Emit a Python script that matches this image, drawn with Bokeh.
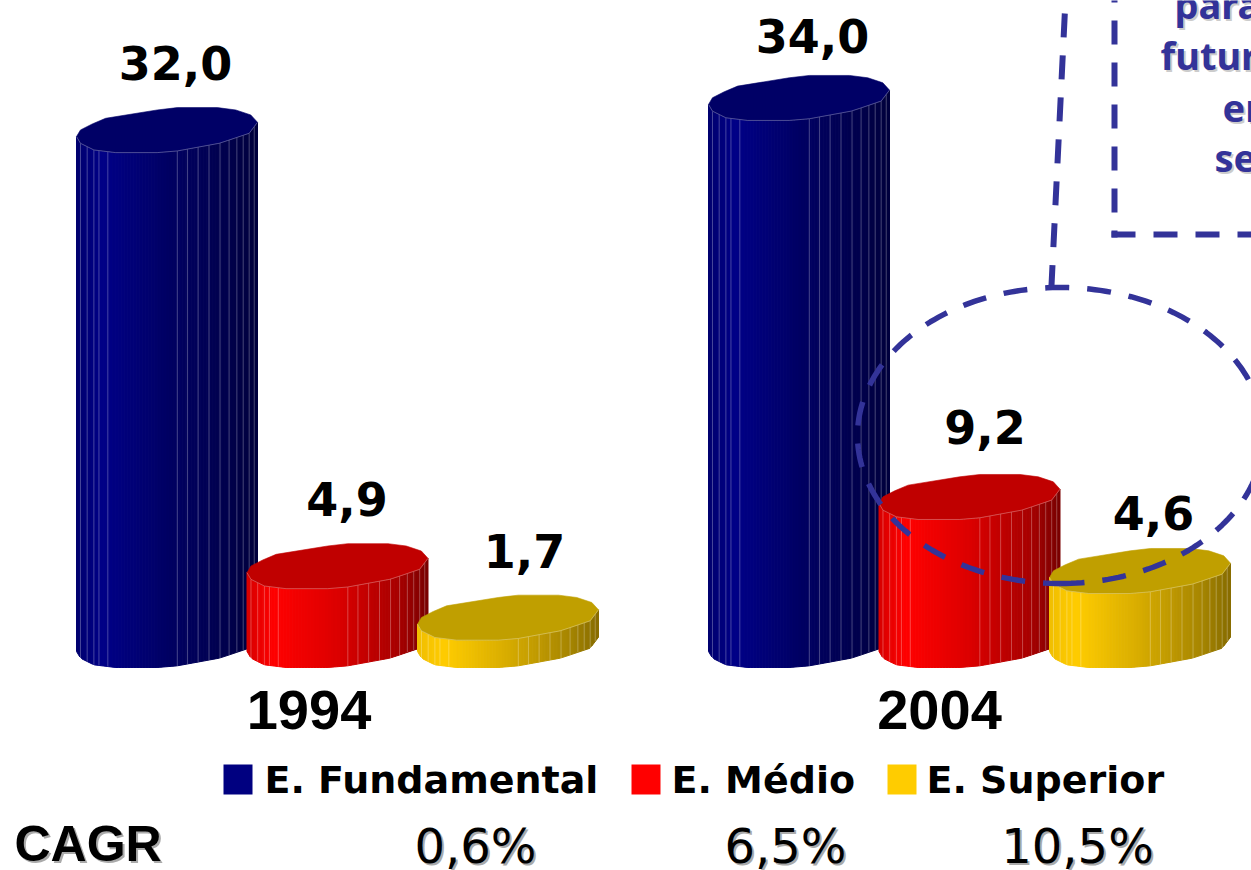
import numpy as np
from bokeh.core.properties import value
from bokeh.embed import file_html
from bokeh.plotting import figure
from bokeh.resources import INLINE

# Enrolment figures by school level
years = ["1994", "2004"]
levels = ["E. Fundamental", "E. Médio", "E. Superior"]
fundamental = [32.0, 34.0]
medio = [4.9, 9.2]
superior = [1.7, 4.6]
cagr_label = "CAGR"
cagr_values = ["0,6%", "6,5%", "10,5%"]
callout_lines = ["para", "futuro", "em", "se"]

# Page geometry, in pixels
W, H = 1251, 870
BASE_PX = 667
PX_PER_UNIT = 16.09
BAR_W = 181
BAR_STEP = 170.5
GROUP_X = [76, 708]
CAP_PX = 45
LIP = CAP_PX / PX_PER_UNIT
MIDDLE_SHIFT = 0.35  # from a text's baseline up to its vertical middle, in ems

# Slightly faceted outline of the cylinder cap (u across, v downwards, both 0-1)
LOW_U = [0, .022, .096, .216, .446, .557, .788, .834, .954, 1]
LOW_V = [.644, .793, .941, 1, 1, .963, .793, .733, .570, .326]
UP_U = [.963, .880, .779, .557, .446, .161, .087, .022]
UP_V = [.163, .052, 0, 0, .052, .237, .363, .496]
SEAMS = [.022, .059, .096, .124, .173, .557, .613, .672, .732, .793, .843, .886, .921, .954, .982]

# Per-level shading
CAP_COLORS = ["#000066", "#C00000", "#C09F00"]
LEGEND_COLORS = ["#000080", "#FF0000", "#FFCC00"]
STOP_U = [0, .15, .5, .85, 1]
SHADES = [
    [(0, 0, 110), (0, 0, 135), (0, 0, 100), (0, 0, 75), (0, 0, 60)],
    [(215, 0, 0), (255, 0, 0), (220, 0, 0), (165, 0, 0), (120, 0, 0)],
    [(240, 190, 0), (255, 204, 0), (215, 172, 0), (165, 132, 0), (135, 108, 0)],
]
ACCENT = "#333399"


def vy(px):
    """Value-axis position of a pixel row."""
    return (BASE_PX - px) / PX_PER_UNIT


p = figure(width=W, height=H, x_range=(0, W), y_range=(vy(H), vy(0)),
           output_backend="svg", toolbar_location=None, min_border=0,
           background_fill_color="white", border_fill_color="white")
p.axis.visible = False
p.grid.visible = False
p.outline_line_color = None


def front_edge(u):
    return (1 - np.interp(u, LOW_U, LOW_V)) * LIP


def shade(level, u):
    return "#%02x%02x%02x" % tuple(
        int(round(np.interp(u, STOP_U, [s[c] for s in SHADES[level]]))) for c in range(3))


def cylinder(x0, val, level):
    edges = np.linspace(0, 1, 61)
    xs, ys, cols = [], [], []
    for a, b in zip(edges[:-1], edges[1:]):
        xs.append([x0 + a * BAR_W, x0 + b * BAR_W, x0 + b * BAR_W, x0 + a * BAR_W])
        ys.append([val + front_edge(a), val + front_edge(b), front_edge(b), front_edge(a)])
        cols.append(shade(level, (a + b) / 2))
    p.patches(xs, ys, fill_color=cols, line_color=cols, line_width=1)
    # Pale facet seams
    p.multi_line([[x0 + u * BAR_W] * 2 for u in SEAMS],
                 [[val + front_edge(u), front_edge(u)] for u in SEAMS],
                 line_color="white", line_alpha=0.28, line_width=1)
    # Cap
    cap_u = np.array(LOW_U + UP_U)
    cap_v = np.array(LOW_V + UP_V)
    p.patch(x0 + cap_u * BAR_W, val + (1 - cap_v) * LIP,
            fill_color=CAP_COLORS[level], line_color=CAP_COLORS[level], line_width=0.6)
    low_u = np.array(LOW_U)
    p.line(x0 + low_u * BAR_W, val + front_edge(low_u),
           line_color="white", line_alpha=0.3, line_width=1)


def label(x, y_px, txt, size, font="DejaVu Sans", style="bold", color="black",
          align="left", shadow=None):
    y_px = y_px - MIDDLE_SHIFT * size
    if shadow:
        p.text([x + 2], [vy(y_px + 2)], text=[txt], text_font=value(font), text_font_style=style,
               text_font_size=f"{size}px", text_color=shadow, text_align=align,
               text_baseline="middle")
    p.text([x], [vy(y_px)], text=[txt], text_font=value(font), text_font_style=style,
           text_font_size=f"{size}px", text_color=color, text_align=align,
           text_baseline="middle")


# Cylinders with their value labels
series = [fundamental, medio, superior]
LABEL_DX = [[99, 104], [100, 106], [107, 104]]
LABEL_RISE = [[74, 68], [74, 76], [73, 64]]
for g, gx in enumerate(GROUP_X):
    for lv, vals in enumerate(series):
        cylinder(gx + lv * BAR_STEP, vals[g], lv)
for g, gx in enumerate(GROUP_X):
    for lv, vals in enumerate(series):
        v = vals[g]
        px = BASE_PX - v * PX_PER_UNIT - LABEL_RISE[lv][g]
        txt = f"{v:.1f}".replace(".", ",")
        label(gx + lv * BAR_STEP + LABEL_DX[lv][g], px, txt, 46, align="center")

# Year labels
for yr, x in zip(years, [308.5, 939]):
    label(x, 729, yr, 56, font="Liberation Sans", align="center")

# Legend
for name, col, sx, tx in zip(levels, LEGEND_COLORS, [223, 631, 887], [264, 671, 926]):
    p.quad(left=[sx], right=[sx + 29], top=[vy(764)], bottom=[vy(794)],
           fill_color=col, line_color=None)
    label(tx, 793, name, 38, font="DejaVu Sans")

# CAGR row
label(14, 861, cagr_label, 50, font="Liberation Sans", shadow="#aaaaaa")
for txt, x in zip(cagr_values, [475, 785, 1077]):
    label(x, 862, txt, 48, style="normal", align="center", shadow="#aaaaaa")

# Dashed callout box, its leader and the highlight ring
t = np.linspace(0, 2 * np.pi, 240) - np.pi / 2
p.line(1060 + 203 * np.cos(t), vy(435) + (148 / PX_PER_UNIT) * np.sin(t),
       line_color=ACCENT, line_width=5.5, line_dash="24 18")
p.line([1064.3, 1051], [vy(13), vy(285)], line_color=ACCENT, line_width=6, line_dash="24 18")
p.line([1114, 1114], [vy(-22), vy(237)], line_color=ACCENT, line_width=6, line_dash="24 18")
p.line([1111, 1260], [vy(234), vy(234)], line_color=ACCENT, line_width=6, line_dash="24 18")

# Callout text, running past the page edge
for txt, x, y in zip(callout_lines, [1174, 1160, 1222, 1214], [17, 68, 120, 170]):
    label(x, y, txt, 38, font="Noto Sans", color=ACCENT, shadow="#cccccc")

open("out.html", "w").write(file_html(p, INLINE))
